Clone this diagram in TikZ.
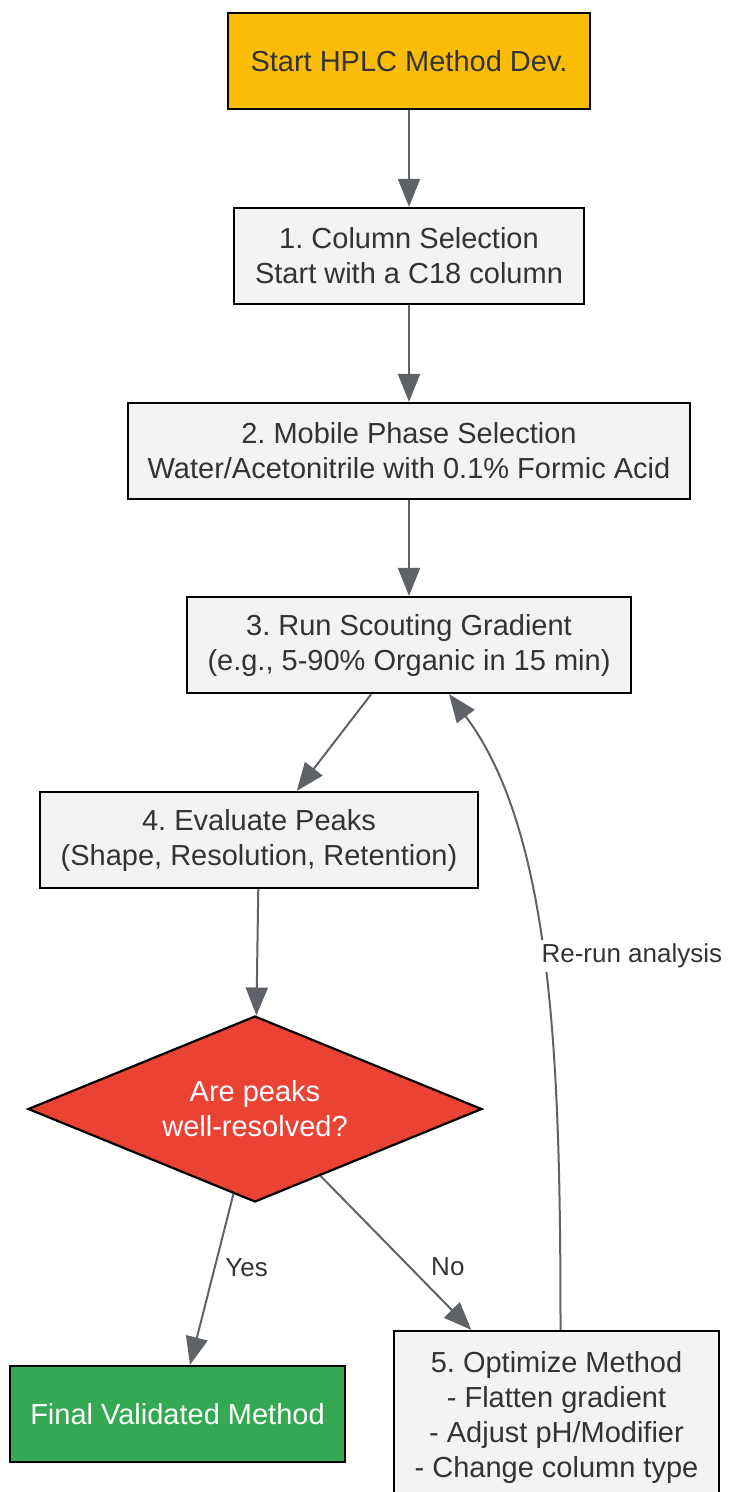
\documentclass[tikz,border=0pt]{standalone}
\usepackage{fontspec}
\setmainfont{Liberation Sans}
\frenchspacing
\usetikzlibrary{shapes.geometric,arrows.meta}
\definecolor{gold}{HTML}{FBBC05}
\definecolor{paper}{HTML}{F1F3F4}
\definecolor{alarm}{HTML}{EA4335}
\definecolor{okgreen}{HTML}{34A853}
\definecolor{wire}{HTML}{5F6368}
\definecolor{ink}{HTML}{333333}

\begin{document}
\begin{tikzpicture}[x=0.5pt,y=-0.5pt,
    box/.style={draw=black,line width=1.1pt,fill=paper,text=ink,align=center,
      minimum height=48pt,font=\fontsize{14.5pt}{17.5pt}\selectfont},
    arr/.style={draw=wire,line width=1pt,-{Triangle[length=14pt,width=11pt]}},
    lbl/.style={text=ink,font=\fontsize{13pt}{15pt}\selectfont}]
        \useasboundingbox (0,0) rectangle (729,1492);
        \node[box,fill=gold,minimum width=181pt] (start) at (409,61) {Start HPLC Method Dev.};
        \node[box,minimum width=175pt] (col)   at (409,256) {1. Column Selection\\Start with a C18 column};
        \node[box,minimum width=281pt] (mob)   at (409,451) {2. Mobile Phase Selection\\Water/Acetonitrile with 0.1\% Formic Acid};
        \node[box,minimum width=222pt] (scout) at (409,645) {3. Run Scouting Gradient\\(e.g., 5-90\% Organic in 15 min)};
        \node[box,minimum width=219pt] (eval)  at (259,840) {4. Evaluate Peaks\\(Shape, Resolution, Retention)};
        \node[box,diamond,aspect=2.44,fill=alarm,text=white,inner sep=0pt,
              minimum width=227pt,minimum height=93pt] (ok) at (255,1109) {Are peaks\\well-resolved?};
        \node[box,fill=okgreen,text=white,minimum width=167.5pt] (final) at (177.5,1414) {Final Validated Method};
        \node[box,minimum width=162.5pt,minimum height=86pt] (opt) at (556.5,1417)
              {5. Optimize Method\\- Flatten gradient\\- Adjust pH/Modifier\\- Change column type};
        %% main line
        \draw[arr] (start) -- (col);
        \draw[arr] (col) -- (mob);
        \draw[arr] (mob) -- (scout);
        \draw[arr] (scout) -- (eval);
        \draw[arr] (eval) -- (ok);
        \draw[arr] (ok) -- node[lbl,pos=0.43,anchor=west,xshift=1.5pt] {Yes} (final);
        \draw[arr] (ok) -- node[lbl,pos=0.59,anchor=west,xshift=7pt] {No} (opt);
        %% loop back
        \draw[arr] ([xshift=2pt]opt.north) .. controls +(0,-260) and +(105,140) ..
              node[lbl,pos=0.517,anchor=west,fill=white,inner sep=2pt,xshift=-3pt] {Re-run analysis}
              ([xshift=20pt]scout.south);
      \end{tikzpicture}
\end{document}
